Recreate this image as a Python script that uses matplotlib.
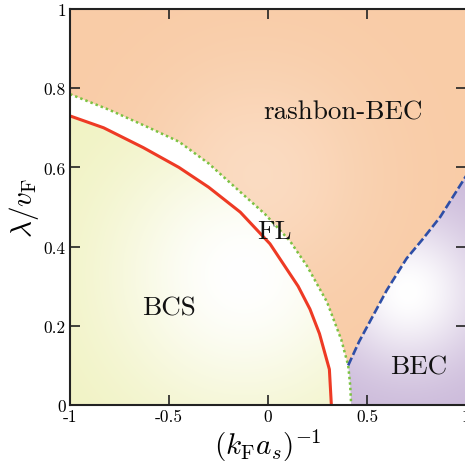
import numpy as np
import matplotlib
matplotlib.use('Agg')
import matplotlib.pyplot as plt
from matplotlib.patches import Polygon

plt.rcParams['mathtext.fontset'] = 'cm'
plt.rcParams['axes.unicode_minus'] = False

# phase boundaries
red_x = [-1.0, -0.83, -0.63, -0.45, -0.30, -0.14, 0.01, 0.152, 0.212, 0.26, 0.31, 0.32]
red_y = [0.73, 0.70, 0.65, 0.60, 0.55, 0.487, 0.407, 0.30, 0.242, 0.18, 0.09, 0.0]

green_x = [-1.0, -0.8, -0.6, -0.45, -0.3, -0.14, -0.015, 0.111, 0.197, 0.298, 0.37, 0.405, 0.415, 0.42]
green_y = [0.785, 0.745, 0.70, 0.665, 0.61, 0.538, 0.482, 0.414, 0.351, 0.26, 0.165, 0.10, 0.05, 0.0]
junction = 11  # where the dashed line starts

blue_x = [0.405, 0.46, 0.53, 0.60, 0.70, 0.78, 0.87, 1.0]
blue_y = [0.10, 0.16, 0.225, 0.29, 0.37, 0.418, 0.475, 0.578]

xticks = [-1, -0.5, 0, 0.5, 1]
xtick_labels = ['-1', '-0.5', '0', '0.5', '1']
yticks = [0, 0.2, 0.4, 0.6, 0.8, 1]
ytick_labels = ['0', '0.2', '0.4', '0.6', '0.8', '1']

phase_names = ['rashbon-BEC', 'BCS', 'FL', 'BEC']
phase_x = [0.38, -0.5, 0.03, 0.76]
phase_y = [0.742, 0.247, 0.44, 0.098]

fig = plt.figure(figsize=(4.65, 4.64), dpi=100)
ax = fig.add_axes([70 / 465, 58 / 464, 396 / 465, 396 / 464])
ax.set_xlim(-1, 1)
ax.set_ylim(0, 1)

xx, yy = np.meshgrid(np.linspace(-1, 1, 400), np.linspace(0, 1, 200))


def shaded(poly, base, centre, radius, strength):
    base = np.array(base) / 255.0
    d = np.hypot(xx - centre[0], 2 * (yy - centre[1]))
    w = strength * np.exp(-(d / radius) ** 2)[..., None]
    rgb = base + (1 - base) * w
    patch = Polygon(poly, closed=True, fc='none', ec='none')
    ax.add_patch(patch)
    im = ax.imshow(rgb, extent=(-1, 1, 0, 1), origin='lower', aspect='auto',
                   interpolation='bilinear', zorder=1)
    im.set_clip_path(patch)


green = list(zip(green_x, green_y))
blue = list(zip(blue_x, blue_y))
red = list(zip(red_x, red_y))

orange_poly = green[:junction + 1] + blue[1:] + [(1, 1), (-1, 1)]
purple_poly = blue + [(1, 0)] + green[junction:][::-1]
yellow_poly = red + [(-1, 0)]

shaded(orange_poly, (249, 204, 167), (-0.05, 0.58), 0.55, 0.3)
shaded(yellow_poly, (240, 242, 192), (-0.12, 0.33), 0.7, 1.0)
shaded(purple_poly, (202, 184, 217), (0.71, 0.285), 0.38, 1.0)

ax.plot(red_x, red_y, color='#ee3a24', lw=2.2, zorder=3)
ax.plot(green_x, green_y, color='#7cc242', lw=1.8, dashes=(1, 1.2), zorder=3)
ax.plot(blue_x, blue_y, color='#2e4ea6', lw=1.9, dashes=(3.2, 1.2), zorder=3)

for name, px, py in zip(phase_names, phase_x, phase_y):
    ax.text(px, py, name, family='cmr10', fontsize=19.5, ha='center', va='center',
            color='#111111', zorder=4)

ax.set_xticks(xticks)
ax.set_xticklabels(xtick_labels, family='cmr10', fontsize=12.5)
ax.set_yticks(yticks)
ax.set_yticklabels(ytick_labels, family='cmr10', fontsize=12.5)
ax.tick_params(direction='in', length=7, width=1.2, top=True, right=True,
               color='#222222', pad=3)
for s in ax.spines.values():
    s.set_linewidth(1.5)
    s.set_color('#222222')
    s.set_zorder(5)

ax.set_xlabel(r'$(k_{\rm F}a_s)^{-1}$', fontsize=21, labelpad=2)
ax.set_ylabel(r'$\lambda/v_{\rm F}$', fontsize=21, labelpad=2)

fig.savefig('out.png', dpi=100)
